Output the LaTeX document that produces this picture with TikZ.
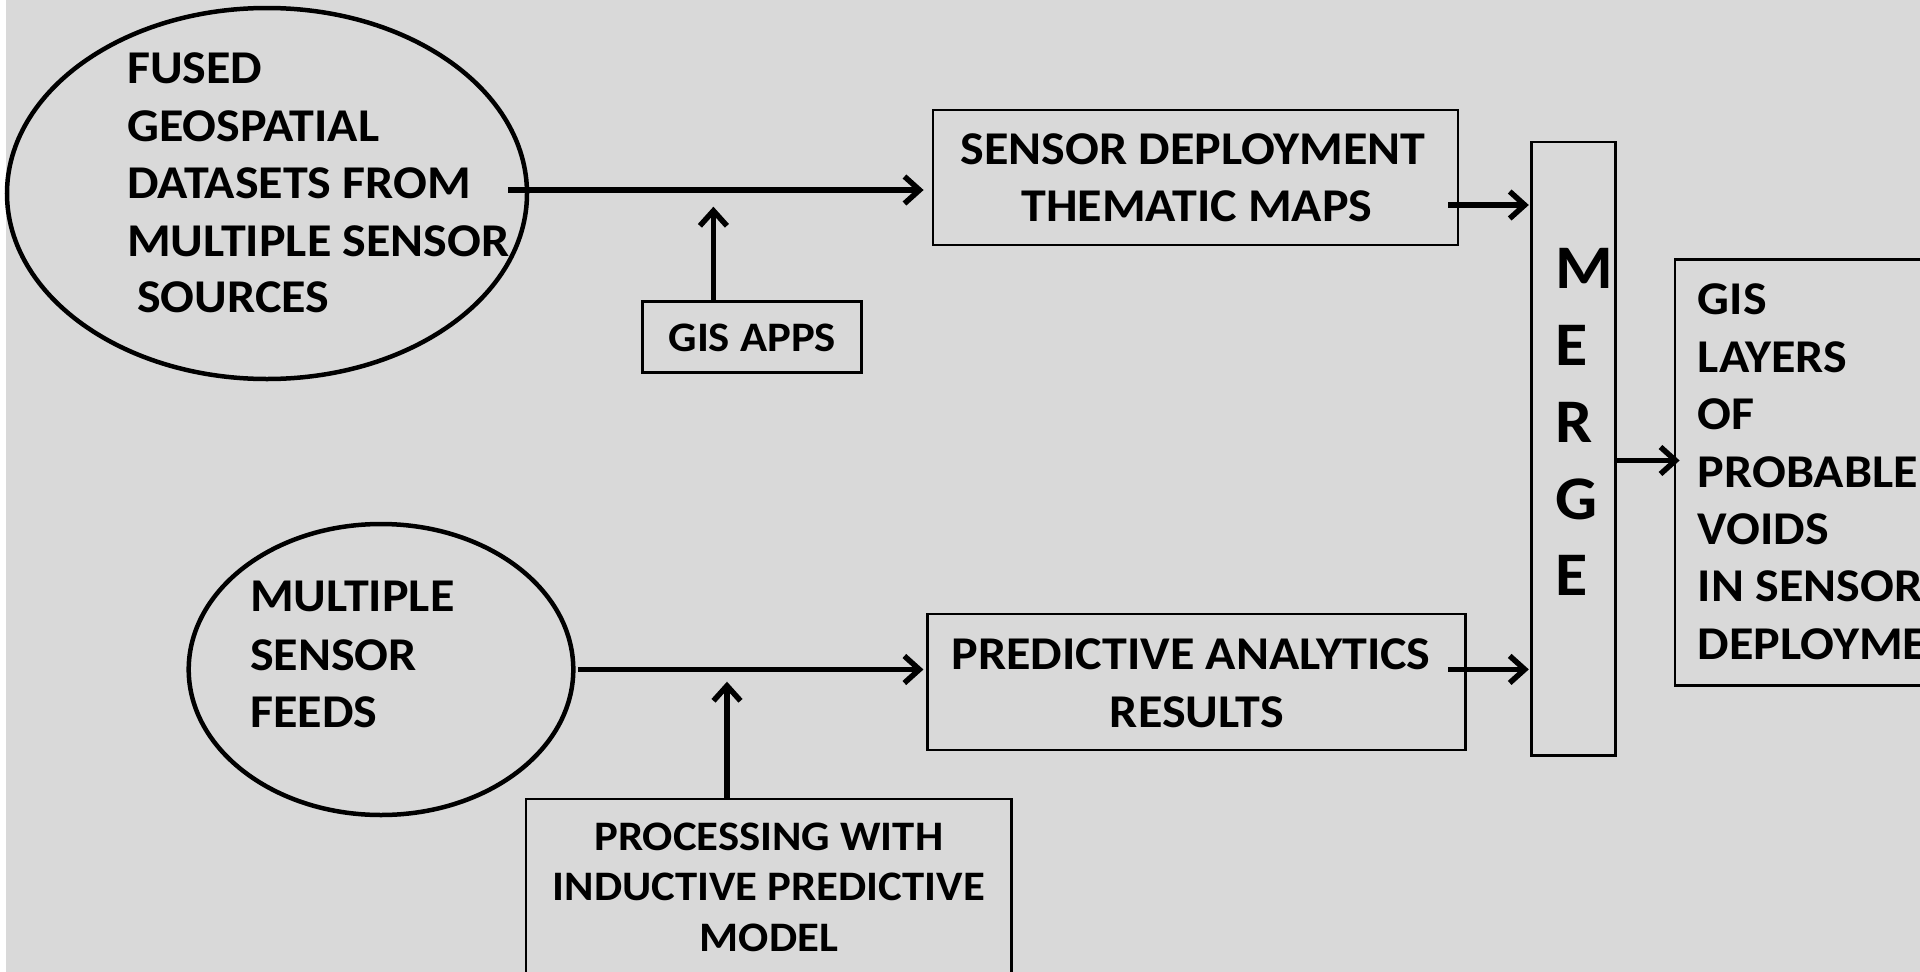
\documentclass[tikz,border=0pt]{standalone}
\usepackage{fontspec}
\setmainfont{Carlito}[FakeStretch=1.065]
\usetikzlibrary{arrows.meta,shapes.geometric}
\definecolor{bgc}{HTML}{D9D9D9}
\begin{document}
\begin{tikzpicture}[x=1pt,y=-1pt,
  ell/.style={draw, ellipse, line width=4.5pt, inner sep=0pt},
  box/.style={draw, rectangle, line width=2.8pt, inner sep=0pt},
  ltxt/.style={inner sep=0pt, anchor=base west, font=\fontsize{47}{57.5}\selectfont\bfseries},
  ctxt/.style={inner sep=0pt, anchor=base, font=\fontsize{47}{57.5}\selectfont\bfseries},
  stxt/.style={inner sep=0pt, anchor=base, font=\fontsize{42}{51}\selectfont\bfseries},
  mtxt/.style={inner sep=0pt, anchor=base west, font=\fontsize{62}{76}\selectfont\bfseries},
  arr/.style={line width=5.5pt, -{Straight Barb[length=15pt,width=27pt]}}
]
\useasboundingbox (0,0) rectangle (1920,972);
\clip (0,0) rectangle (1920,972);
\fill[bgc] (0,0) rectangle (1920,972);
\fill[white] (0,0) rectangle (6,972);

% ellipse 1
\node[ell, minimum width=520pt, minimum height=371pt] (fused) at (267,193.5) {};
\foreach \t/\y [count=\i] in {FUSED/83.3, GEOSPATIAL/141.7, DATASETS FROM/198.3, MULTIPLE SENSOR/256}
  \node[ltxt] (fusedt\i) at (127,\y) {\t};
\node[ltxt] (fusedt5) at (137,312.7) {SOURCES};

% ellipse 2
\node[ell, minimum width=384.6pt, minimum height=291pt] (feeds) at (381,669.5) {};
\foreach \t/\y [count=\i] in {MULTIPLE/611.7, SENSOR/670, FEEDS/727}
  \node[ltxt] (feedst\i) at (250,\y) {\t};

% sensor deployment box
\node[box, minimum width=525pt, minimum height=135pt] (sdm) at (1195.5,177.5) {};
\node[ctxt] (sdmt1) at (1193,164) {SENSOR DEPLOYMENT};
\node[ctxt] (sdmt2) at (1197,221.7) {THEMATIC MAPS};

% GIS apps
\node[box, minimum width=219pt, minimum height=71pt] (gis) at (752.3,337.2) {};
\node[stxt] (gist) at (752.3,351.7) {GIS APPS};

% predictive analytics box
\node[box, minimum width=537.5pt, minimum height=136pt] (pred) at (1196.6,682) {};
\node[ctxt] (predt1) at (1191,669) {PREDICTIVE ANALYTICS};
\node[ctxt] (predt2) at (1197,727.3) {RESULTS};

% processing box
\node[box, minimum width=485.6pt, minimum height=201pt] (proc) at (768.8,899.5) {};
\node[stxt] (proct1) at (768.8,850) {PROCESSING WITH};
\node[stxt] (proct2) at (768.8,900.7) {INDUCTIVE PREDICTIVE};
\node[stxt] (proct3) at (768.8,951.7) {MODEL};

% merge box
\node[box, minimum width=83.8pt, minimum height=613.7pt] (merge) at (1573.6,448.85) {};
\foreach \t/\y [count=\i] in {M/288.3, E/365, R/442.7, G/519.5, E/595}
  \node[mtxt] (merget\i) at (1555,\y) {\t};

% result box
\node[box, minimum width=315pt, minimum height=425.8pt] (res) at (1832.5,472.5) {};
\foreach \t/\y [count=\i] in {GIS/314.7, LAYERS/372.15, OF/429.6, PROBABLE/487.05, VOIDS/544.5, IN SENSOR/601.95, DEPLOYMENT/659.4}
  \node[ltxt] (rest\i) at (1697.7,\y) {\t};

% connectors
\coordinate (a1s) at (508,190);
\draw[arr, shorten >=8pt] (a1s) -- (a1s -| sdm.west);
\coordinate (g1) at (713.4,206.7);
\draw[arr] (g1 |- gis.north) -- (g1);
\draw[arr, shorten <=2.4pt, shorten >=3pt] (feeds.east) -- (feeds.east -| pred.west);
\coordinate (p1) at (727,681.7);
\draw[arr] (p1 |- proc.north) -- (p1);
\coordinate (m1) at (1448,205);
\draw[arr, shorten >=1.5pt] (m1) -- (m1 -| merge.west);
\coordinate (m2) at (1448,669.4);
\draw[arr, shorten >=1.5pt] (m2) -- (m2 -| merge.west);
\coordinate (m3) at (1616,460.5);
\draw[arr, shorten >=-6pt] (m3 -| merge.east) -- (m3 -| res.west);
\end{tikzpicture}
\end{document}
